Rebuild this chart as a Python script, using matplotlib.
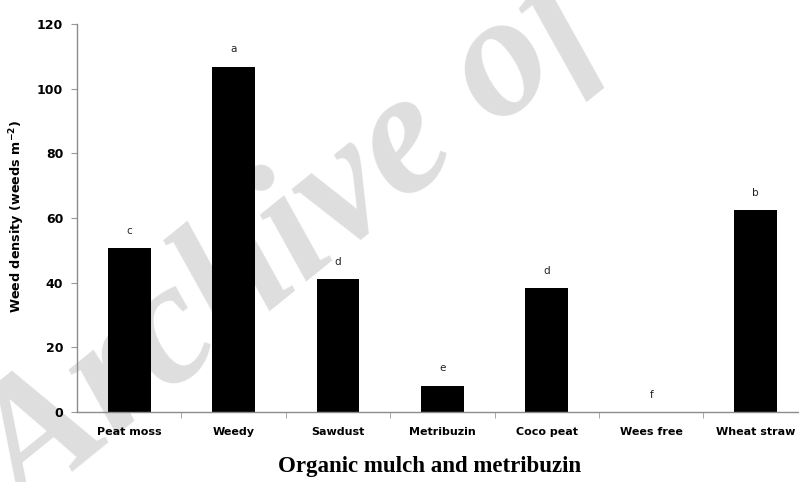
import numpy as np
import matplotlib
matplotlib.use("Agg")
import matplotlib.pyplot as plt

treatments = ["Peat moss", "Weedy", "Sawdust", "Metribuzin", "Coco peat", "Wees free", "Wheat straw"]
density = [50.7, 106.8, 41.0, 8.1, 38.3, 0.0, 62.4]
groups = ["c", "a", "d", "e", "d", "f", "b"]
yticks = [0, 20, 40, 60, 80, 100, 120]

fig = plt.figure(figsize=(7.99, 4.82), dpi=100)
ax = fig.add_axes([0.0964, 0.1452, 0.9036, 0.805])

# faint watermark, sits under the bars
ax.text(0.062, -0.13, "Archive of", transform=fig.transFigure, fontsize=126,
        family="Liberation Serif", style="italic", weight="bold", color="#dedede",
        rotation=39, rotation_mode="anchor", ha="left", va="bottom",
        zorder=1, clip_on=False)

x = np.arange(len(treatments))
ax.bar(x, density, width=0.41, color="black", zorder=2)

for xi, v, g in zip(x, density, groups):
    ax.annotate(g, (xi, v), xytext=(0, 9), textcoords="offset points",
                ha="center", va="bottom", fontsize=7.5, color="#222222", zorder=3)

ax.set_xlim(-0.5, 6.416)
ax.set_ylim(0, 120)
ax.set_yticks(yticks)
ax.set_yticklabels([str(t) for t in yticks], fontsize=9, weight="bold")
ax.set_xticks(x)
ax.set_xticklabels(treatments, fontsize=8, weight="bold")
ax.tick_params(axis="x", length=0, pad=11)
ax.set_xticks(np.arange(0.5, 6.0, 1.0), minor=True)
ax.tick_params(axis="x", which="minor", length=4, color="#999999", direction="out")
ax.tick_params(axis="y", length=4, color="#999999", direction="out", pad=6)

for s in ["top", "right"]:
    ax.spines[s].set_visible(False)
for s in ["left", "bottom"]:
    ax.spines[s].set_color("#8c8c8c")
    ax.spines[s].set_linewidth(1.0)
    ax.spines[s].set_zorder(3)

fig.text(0.537, 0.010, "Organic mulch and metribuzin", ha="center", va="bottom",
         fontsize=16.5, weight="bold", family="Liberation Serif")
fig.text(0.021, 0.55, r"Weed density (weeds m$^{\mathbf{-2}}$)", rotation=90,
         ha="center", va="center", fontsize=9.2, weight="bold")

fig.savefig("out.png", dpi=100)
